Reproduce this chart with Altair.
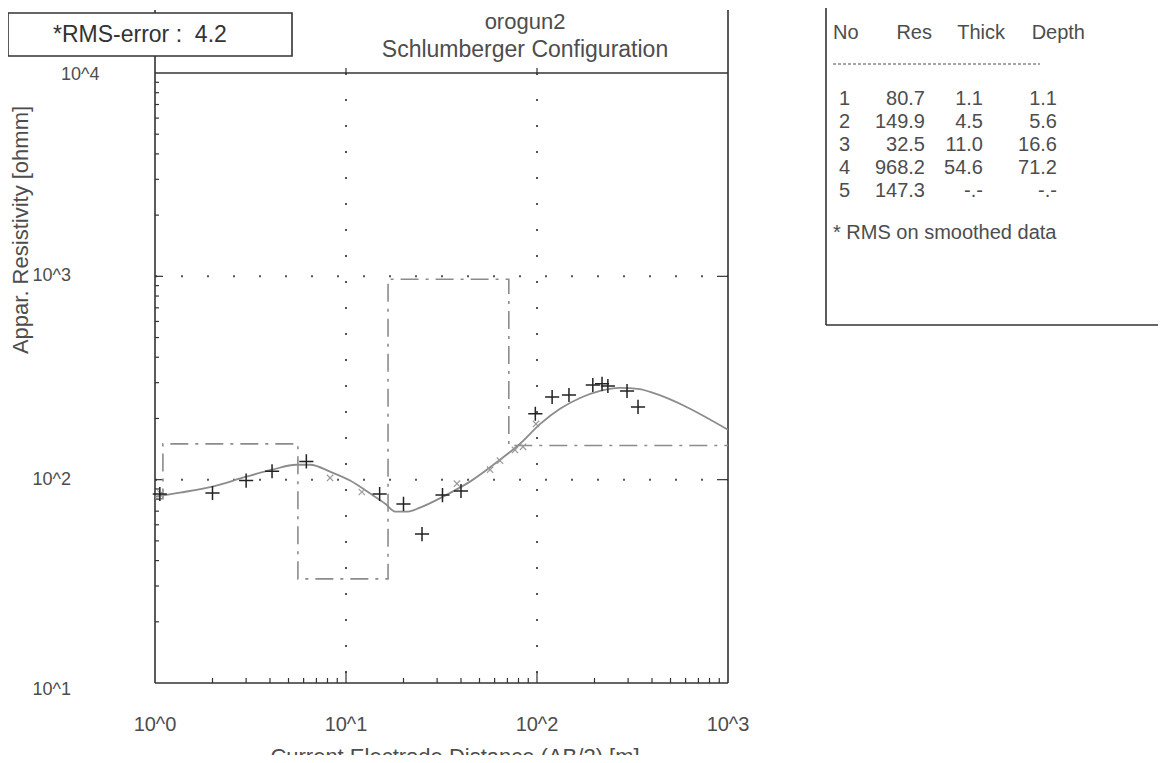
import math
import altair as alt
import pandas as pd

# ---------------- data ----------------
# observed apparent resistivity (+)
ab2_obs = [1.06, 2.0, 3.0, 4.1, 6.2, 15.0, 20.0, 25.0, 32.0, 40.0,
           98.0, 120.0, 147.0, 196.0, 219.0, 235.0, 296.0, 338.0]
rho_obs = [85, 86, 99, 110, 123, 85, 76, 54, 84, 88,
           211, 255, 261, 292, 296, 289, 273, 228]

# smoothed data (x)
ab2_smooth = [1.07, 8.25, 12.1, 38.1, 56.8, 64.0, 76.7, 84.5, 98.8]
rho_smooth = [85.4, 102, 87, 95.6, 112, 124, 140, 145, 188]

# model response curve
ab2_model = [1.0, 1.35, 2.0, 3.0, 4.1, 5.5, 6.5, 8.25, 10.5, 13.4, 16.0, 18.1,
             21.1, 24.4, 33.0, 44.6, 64.0, 81.5, 104, 132, 168, 214, 272, 346, 391, 1000]
rho_model = [82.5, 86.3, 92.4, 103.4, 111.9, 118.4, 118.4, 109.5, 99, 85.4, 76.3, 69.7,
             69.7, 72.9, 83.5, 97.8, 125.3, 150.2, 188, 223, 252, 273, 282.5, 279, 270, 176]

# layered model (table)
layer_no = [1, 2, 3, 4, 5]
layer_res = [80.7, 149.9, 32.5, 968.2, 147.3]
layer_thick = [1.1, 4.5, 11.0, 54.6, None]
layer_depth = [1.1, 5.6, 16.6, 71.2, None]

x_decades = [1, 10, 100, 1000]
y_decades = [10, 100, 1000, 10000]
rms_error = 4.2
title_lines = ["orogun2", "Schlumberger Configuration"]
x_title = "Current Electrode Distance (AB/2) [m]"
y_title = "Appar. Resistivity [ohmm]"
table_header = ["No", "Res", "Thick", "Depth"]
note = "* RMS on smoothed data"

# ---------------- style ----------------
W, H = 573, 610
FONT = "Liberation Sans"
TXT = "#4d4d4d"
LINE = "#333333"
GRAY = "#8c8c8c"
NB = "\u00a0"

xs = alt.Scale(type="log", domain=[1, 1000], nice=False)
ys = alt.Scale(type="log", domain=[10, 10000], nice=False)


def X(f):
    return alt.X(f"{f}:Q", scale=xs, axis=None)


def Y(f):
    return alt.Y(f"{f}:Q", scale=ys, axis=None)


one = pd.DataFrame({"a": [0]})


def exp_label(v):
    return "10^" + str(int(round(math.log10(v))))


def text_at(txt, x, y, **kw):
    return alt.Chart(pd.DataFrame({"t": [txt]})).mark_text(**kw).encode(
        x=alt.value(x), y=alt.value(y), text="t:N")


layers = []

# dotted grid
gx = pd.DataFrame({"v": x_decades[1:-1]})
gy = pd.DataFrame({"v": y_decades[1:-1]})
layers.append(alt.Chart(gx).mark_rule(color="#555", strokeWidth=2, strokeDash=[2, 24]).encode(
    x=X("v"), y=alt.value(0), y2=alt.value(H)))
layers.append(alt.Chart(gy).mark_rule(color="#555", strokeWidth=2, strokeDash=[2, 24]).encode(
    y=Y("v"), x=alt.value(0), x2=alt.value(W)))

# frame
frame_kw = dict(color=LINE, strokeWidth=1.6)
layers.append(alt.Chart(one).mark_rule(**frame_kw).encode(x=alt.value(0), y=alt.value(-63), y2=alt.value(H)))
layers.append(alt.Chart(one).mark_rule(**frame_kw).encode(x=alt.value(W), y=alt.value(-63), y2=alt.value(H)))
layers.append(alt.Chart(one).mark_rule(**frame_kw).encode(y=alt.value(0), x=alt.value(0), x2=alt.value(W)))
layers.append(alt.Chart(one).mark_rule(**frame_kw).encode(y=alt.value(H), x=alt.value(0), x2=alt.value(W)))

# inward ticks
x_minor = pd.DataFrame({"v": [m * 10 ** k for k in range(3) for m in range(2, 10)]})
y_minor = pd.DataFrame({"v": [m * 10 ** k for k in range(1, 4) for m in range(2, 10)]})
tick_kw = dict(color=LINE, strokeWidth=1.2)
layers.append(alt.Chart(x_minor).mark_rule(**tick_kw).encode(x=X("v"), y=alt.value(H), y2=alt.value(H - 5)))
layers.append(alt.Chart(gx).mark_rule(**tick_kw).encode(x=X("v"), y=alt.value(H), y2=alt.value(H - 11)))
layers.append(alt.Chart(gx).mark_rule(**tick_kw).encode(x=X("v"), y=alt.value(0), y2=alt.value(-5)))
layers.append(alt.Chart(y_minor).mark_rule(**tick_kw).encode(y=Y("v"), x=alt.value(0), x2=alt.value(4)))
layers.append(alt.Chart(gy).mark_rule(**tick_kw).encode(y=Y("v"), x=alt.value(0), x2=alt.value(8)))
layers.append(alt.Chart(gy).mark_rule(**tick_kw).encode(y=Y("v"), x=alt.value(W), x2=alt.value(W - 11)))

# tick labels
lab_kw = dict(font=FONT, fontSize=20, color=TXT)
xl = pd.DataFrame({"v": x_decades, "t": [exp_label(v) for v in x_decades]})
layers.append(alt.Chart(xl).mark_text(baseline="middle", **lab_kw).encode(
    x=X("v"), y=alt.value(H + 42), text="t:N"))
ylab_kw = dict(font=FONT, fontSize=18, color=TXT)
yl_mid = pd.DataFrame({"v": y_decades[1:3], "t": [exp_label(v) for v in y_decades[1:3]]})
layers.append(alt.Chart(yl_mid).mark_text(align="right", baseline="middle", **ylab_kw).encode(
    y=Y("v"), x=alt.value(-84), text="t:N"))
yl_bot = pd.DataFrame({"v": y_decades[:1], "t": [exp_label(v) for v in y_decades[:1]]})
layers.append(alt.Chart(yl_bot).mark_text(align="right", baseline="middle", dy=7, **ylab_kw).encode(
    y=Y("v"), x=alt.value(-84), text="t:N"))
yl_top = pd.DataFrame({"v": y_decades[3:], "t": [exp_label(v) for v in y_decades[3:]]})
layers.append(alt.Chart(yl_top).mark_text(align="left", baseline="middle", dy=2, **ylab_kw).encode(
    y=Y("v"), x=alt.value(-94), text="t:N"))

# axis titles
layers.append(text_at(y_title, -134, 157, angle=270, baseline="middle", font=FONT, fontSize=22, color=TXT))
layers.append(text_at(x_title, 300, H + 74, baseline="middle", font=FONT, fontSize=22, color=TXT))

# layered-model step line (dash-dot)
sx, sy = [1.0], [layer_res[0]]
for i, d in enumerate(layer_depth[:-1]):
    sx += [d, d]
    sy += [layer_res[i], layer_res[i + 1]]
sx.append(1000.0)
sy.append(layer_res[-1])
step_df = pd.DataFrame({"x": sx, "y": sy, "o": list(range(len(sx)))})
layers.append(alt.Chart(step_df).mark_line(color=GRAY, strokeWidth=1.6, strokeDash=[18, 7, 3, 7]).encode(
    x=X("x"), y=Y("y"), order="o:Q"))

# model curve
model_df = pd.DataFrame({"x": ab2_model, "y": rho_model})
layers.append(alt.Chart(model_df).mark_line(color=GRAY, strokeWidth=1.8, interpolate="monotone").encode(
    x=X("x"), y=Y("y")))

# smoothed data markers
sm_df = pd.DataFrame({"x": ab2_smooth, "y": rho_smooth})
layers.append(alt.Chart(sm_df).mark_point(shape="M-1,-1L1,1M-1,1L1,-1", size=40, filled=False,
                                          stroke="#9a9a9a", strokeWidth=1.2, opacity=1).encode(
    x=X("x"), y=Y("y")))

# observed data markers
obs_df = pd.DataFrame({"x": ab2_obs, "y": rho_obs})
layers.append(alt.Chart(obs_df).mark_point(shape="M-1,0L1,0M0,-1L0,1", size=200, filled=False,
                                           stroke="#222", strokeWidth=1.5, opacity=1).encode(
    x=X("x"), y=Y("y")))

# title
layers.append(text_at(title_lines[0], 370, -51, font=FONT, fontSize=22, color=TXT, baseline="middle"))
layers.append(text_at(title_lines[1], 370, -23, font=FONT, fontSize=23, color=TXT, baseline="middle"))

# RMS box
layers.append(alt.Chart(one).mark_rect(fill="white", stroke=LINE, strokeWidth=1.6).encode(
    x=alt.value(-147), x2=alt.value(137), y=alt.value(-60), y2=alt.value(-17)))
layers.append(text_at(f"*RMS-error :{NB}{NB}{rms_error}", -102, -38,
                      font=FONT, fontSize=23, color="#333", align="left", baseline="middle"))

# table  (chart coords = page coords - (155, 73))
TX0 = 671
TY1 = 252
layers.append(alt.Chart(one).mark_rule(**frame_kw).encode(
    x=alt.value(TX0), y=alt.value(-65), y2=alt.value(TY1)))
layers.append(alt.Chart(one).mark_rule(**frame_kw).encode(
    y=alt.value(TY1), x=alt.value(TX0), x2=alt.value(1003)))
tab_kw = dict(font=FONT, fontSize=20, color=TXT, baseline="middle")
head_pos = [("left", 678), ("right", 777), ("right", 850), ("right", 930)]
for txt, (al, xx) in zip(table_header, head_pos):
    layers.append(text_at(txt, xx, -40, align=al, **tab_kw))
layers.append(alt.Chart(one).mark_rule(color=TXT, strokeWidth=1, strokeDash=[3, 2]).encode(
    y=alt.value(-9), x=alt.value(678), x2=alt.value(885)))


def fmt(v):
    return "-.-" if v is None else f"{v:.1f}"


row_y0, row_dy = 26, 23
col_pos = [("left", 684), ("right", 770), ("right", 828), ("right", 902)]
for i in range(len(layer_no)):
    yy = row_y0 + i * row_dy
    cells = [str(layer_no[i]), fmt(layer_res[i]), fmt(layer_thick[i]), fmt(layer_depth[i])]
    for txt, (al, xx) in zip(cells, col_pos):
        layers.append(text_at(txt, xx, yy, align=al, **tab_kw))
layers.append(text_at(note, 678, 160, align="left", **tab_kw))

chart = alt.layer(*layers).properties(
    width=W, height=H,
    autosize=alt.AutoSizeParams(type="none"),
    padding={"left": 147, "top": 65, "right": 430, "bottom": 72},
    background="white",
).configure_view(stroke=None)

chart.save("out.html", embed_options={"renderer": "svg", "actions": False})
